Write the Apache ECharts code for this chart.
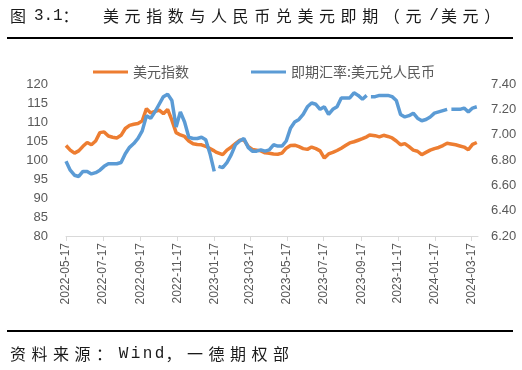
<!DOCTYPE html>
<html><head><meta charset="utf-8">
<script src="https://cdn.jsdelivr.net/npm/echarts@6/dist/echarts.min.js"></script>
<style>html,body{margin:0;padding:0;background:#fff}#c{width:522px;height:370px}</style>
</head><body><div id="c"></div>
<script>
const dates = [
'2022-05-17','2022-05-24','2022-05-31','2022-06-07','2022-06-14','2022-06-21','2022-06-28','2022-07-05','2022-07-12','2022-07-19',
'2022-07-26','2022-08-02','2022-08-09','2022-08-16','2022-08-23','2022-08-30','2022-09-06','2022-09-13','2022-09-20','2022-09-27',
'2022-10-04','2022-10-11','2022-10-18','2022-10-25','2022-11-01','2022-11-08','2022-11-15','2022-11-22','2022-11-29','2022-12-06',
'2022-12-13','2022-12-20','2022-12-27','2023-01-03','2023-01-10','2023-01-17','2023-01-21','2023-01-24','2023-01-31','2023-02-07','2023-02-14',
'2023-02-21','2023-02-28','2023-03-07','2023-03-14','2023-03-21','2023-03-28','2023-04-04','2023-04-11','2023-04-18','2023-04-25',
'2023-05-02','2023-05-09','2023-05-16','2023-05-23','2023-05-30','2023-06-06','2023-06-13','2023-06-20','2023-06-27','2023-07-04',
'2023-07-11','2023-07-18','2023-07-25','2023-08-01','2023-08-08','2023-08-15','2023-08-22','2023-08-29','2023-09-05','2023-09-12',
'2023-09-19','2023-09-26','2023-10-01','2023-10-03','2023-10-10','2023-10-17','2023-10-24','2023-10-31','2023-11-07','2023-11-14','2023-11-21',
'2023-11-28','2023-12-05','2023-12-12','2023-12-19','2023-12-26','2024-01-02','2024-01-09','2024-01-16','2024-01-23','2024-01-30',
'2024-02-06','2024-02-10','2024-02-13','2024-02-20','2024-02-27','2024-03-05','2024-03-12','2024-03-19','2024-03-26'
];
const usdIndex = [
103.8,102.6,101.8,102.4,103.6,104.6,104.0,105.0,107.2,107.4,
106.3,106.0,105.8,106.5,108.3,109.1,109.4,109.6,110.3,113.5,
112.4,112.8,113.1,112.2,113.3,110.5,107.2,106.6,106.2,105.0,
104.3,104.1,104.0,103.6,103.0,102.4,102.0,101.8,101.4,102.6,103.4,
104.3,105.2,105.3,103.6,102.8,102.6,102.4,101.9,101.8,101.6,
101.5,101.8,103.1,103.8,103.9,103.5,103.0,102.8,103.4,103.0,
102.4,100.5,101.6,102.0,102.5,103.1,103.8,104.5,104.8,105.2,
105.6,106.1,106.6,107.0,106.4,106.1,106.5,106.2,105.8,105.0,104.0,
104.3,103.5,102.6,102.3,101.4,102.0,102.6,103.0,103.3,103.8,
104.4,104.3,104.5,104.0,103.7,103.4,102.7,104.1,104.6
];
const usdCny = [
6.79,6.72,6.68,6.67,6.71,6.71,6.69,6.70,6.72,6.75,
6.77,6.77,6.77,6.78,6.85,6.90,6.93,6.97,7.03,7.15,
7.13,7.18,7.24,7.30,7.32,7.27,7.06,7.18,7.10,6.98,
6.97,6.97,6.98,6.96,6.85,6.71,null,6.75,6.74,6.78,6.84,
6.92,6.95,6.97,6.90,6.87,6.87,6.88,6.87,6.88,6.92,
6.91,6.91,6.95,7.05,7.10,7.12,7.16,7.22,7.25,7.24,
7.20,7.22,7.16,7.20,7.22,7.29,7.29,7.29,7.33,7.31,
7.28,7.31,null,7.30,7.30,7.31,7.31,7.31,7.30,7.27,7.16,
7.14,7.15,7.17,7.13,7.11,7.12,7.14,7.17,7.18,7.19,
7.20,null,7.20,7.20,7.20,7.21,7.18,7.21,7.22
];
const xTickLabels = ['2022-05-17','2022-07-17','2022-09-17','2022-11-17','2023-01-17','2023-03-17',
  '2023-05-17','2023-07-17','2023-09-17','2023-11-17','2024-01-17','2024-03-17'];
const seriesNames = ['美元指数','即期汇率:美元兑人民币'];
const titleHead = '图';
const titleNum = '3.1：';
const titleMain = '美元指数与人民币兑美元即期（元/美元）';
const sourceText = '资料来源：Wind，一德期权部';

function ts(s){const p=s.split('-');return Date.UTC(+p[0],+p[1]-1,+p[2]);}
function fmt(v){const d=new Date(v);return d.getUTCFullYear()+'-'+String(d.getUTCMonth()+1).padStart(2,'0')+'-'+String(d.getUTCDate()).padStart(2,'0');}
function spaced(str,x0,y,size,cjkPitch,latinPitch,fill){
  const out=[];let x=x0;
  for(const ch of str){
    const cjk = ch.charCodeAt(0)>255;
    out.push({type:'text',x:cjk?x:x+latinPitch/2,y:y,silent:true,style:{text:ch,fontSize:size,
      fontFamily:cjk?'"Noto Sans CJK SC"':'"Liberation Mono", "DejaVu Sans Mono", monospace',
      fill:fill,verticalAlign:'middle',align:cjk?'left':'center'}});
    x+= cjk?cjkPitch:latinPitch;
  }
  return out;
}
const tickTs = xTickLabels.map(ts);
const chart = echarts.init(document.getElementById('c'));
const graphics = [].concat(
  spaced(titleHead,10,16,16,21,9,'#1a1a1a'),
  spaced(titleNum,34,16,16,20,9.5,'#1a1a1a'),
  spaced(titleMain,103,16,16,21.6,14,'#1a1a1a'),
  [{type:'line',silent:true,shape:{x1:7,y1:38,x2:513,y2:38},style:{stroke:'#000',lineWidth:2}},
   {type:'line',silent:true,shape:{x1:7,y1:331,x2:513,y2:331},style:{stroke:'#000',lineWidth:2}}],
  spaced(sourceText,10,354,16,21.5,12,'#1a1a1a')
);
chart.setOption({
  animation:false,
  backgroundColor:'#fff',
  graphic:graphics,
  legend:{left:88,top:60,itemWidth:35,itemHeight:3,icon:'rect',itemGap:62,
    textStyle:{fontSize:14,color:'#595959',fontFamily:'"Noto Sans CJK SC"'},data:seriesNames},
  grid:{left:66,right:44,top:84,bottom:134,containLabel:false},
  xAxis:{type:'value',min:ts('2022-05-17'),max:ts('2024-03-28'),
    axisLine:{show:true,lineStyle:{color:'#d9d9d9',width:1}},
    axisTick:{show:true,customValues:tickTs,length:5,lineStyle:{color:'#d9d9d9'}},
    axisLabel:{customValues:tickTs,rotate:90,formatter:fmt,fontSize:12,color:'#595959',margin:7,
      fontFamily:'"Liberation Sans", Arial, sans-serif'},
    splitLine:{show:false}},
  yAxis:[
    {type:'value',min:80,max:120,interval:5,axisLine:{show:false},axisTick:{show:false},splitLine:{show:false},
     axisLabel:{fontSize:13,color:'#595959',margin:18,fontFamily:'"Liberation Sans", Arial, sans-serif'}},
    {type:'value',min:6.2,max:7.4,interval:0.2,axisLine:{show:false},axisTick:{show:false},splitLine:{show:false},
     axisLabel:{fontSize:13,color:'#595959',margin:13,formatter:v=>v.toFixed(2),fontFamily:'"Liberation Sans", Arial, sans-serif'}}
  ],
  series:[
    {name:seriesNames[0],type:'line',yAxisIndex:0,symbol:'none',color:'#ED7D31',lineStyle:{width:3.5,color:'#ED7D31'},
     data:dates.map((d,i)=>[ts(d),usdIndex[i]])},
    {name:seriesNames[1],type:'line',yAxisIndex:1,symbol:'none',color:'#5B9BD5',lineStyle:{width:3.5,color:'#5B9BD5'},connectNulls:false,
     data:dates.map((d,i)=>[ts(d),usdCny[i]])}
  ]
});
</script></body></html>
